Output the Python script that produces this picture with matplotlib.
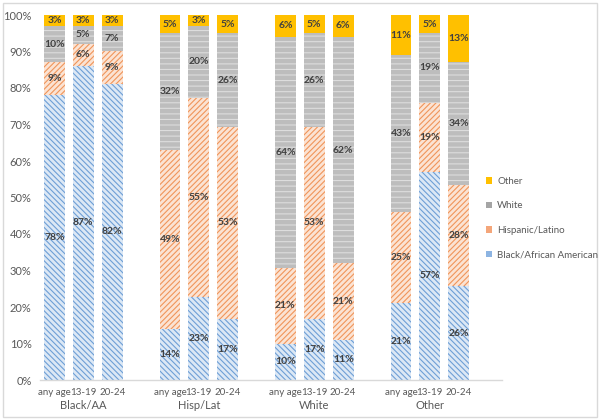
import matplotlib
matplotlib.use("Agg")
import matplotlib.pyplot as plt
from matplotlib.patches import Patch, Rectangle
import matplotlib.transforms as mtransforms
import numpy as np

plt.rcParams['font.family'] = ['Lato', 'DejaVu Sans']
plt.rcParams['hatch.linewidth'] = 0.8

ages = ["any age", "13-19", "20-24"]
groups = ["Black/AA", "Hisp/Lat", "White", "Other"]
series_names = ["Black/African American", "Hispanic/Latino", "White", "Other"]
black = [78, 87, 82, 14, 23, 17, 10, 17, 11, 21, 57, 26]
hisp = [9, 6, 9, 49, 55, 53, 21, 53, 21, 25, 19, 28]
white = [10, 5, 7, 32, 20, 26, 64, 26, 62, 43, 19, 34]
other = [3, 3, 3, 5, 3, 5, 6, 5, 6, 11, 5, 13]

series = [black, hisp, white, other]
faces = ["#DCE8F5", "#FBE3D3", "#BDBDBD", "#FFC000"]
hatchcol = ["#6E9FD6", "#F0955A", "#DDDDDD", "#FFC000"]
hatches = ["\\\\\\\\\\\\", "//////", "---", None]
legend_cols = ["#8DB4E2", "#F4A67A", "#A5A5A5", "#FFC000"]

fig = plt.figure(figsize=(6.0, 4.19), dpi=100)
ax = fig.add_axes([40/600, 1-380/419, 462/600, 365/419])

x = []
for g in range(len(groups)):
    for i in range(len(ages)):
        x.append(g*4 + i)
x = np.array(x)

vals = np.array(series, dtype=float)
tot = vals.sum(axis=0)
frac = vals / tot * 100
bottom = np.zeros(len(x))
for s in range(4):
    bars = ax.bar(x, frac[s], 0.72, bottom=bottom, color=faces[s],
                  edgecolor=hatchcol[s], linewidth=0, hatch=hatches[s])
    for xi, b, h, v in zip(x, bottom, frac[s], vals[s]):
        ax.text(xi, b + h/2, f"{int(v)}%", ha="center", va="center",
                fontsize=7.5, fontweight="bold", color="#404040")
    bottom += frac[s]

ax.set_xlim(-0.5, 15.5)
ax.set_ylim(0, 100)
ax.set_yticks(np.arange(0, 101, 10))
ax.set_yticklabels([f"{v}%" for v in range(0, 101, 10)], fontsize=8, color="#595959")
ax.set_xticks(x)
ax.set_xticklabels(ages * len(groups), fontsize=7, color="#595959")
ax.tick_params(axis="y", length=0, pad=6)
ax.tick_params(axis="x", length=0, pad=6)
for sp in ["top", "right", "left"]:
    ax.spines[sp].set_visible(False)
ax.spines["bottom"].set_color("#D9D9D9")
ax.spines["bottom"].set_linewidth(1)

trans = mtransforms.blended_transform_factory(ax.transData, fig.transFigure)
for g, name in enumerate(groups):
    ax.text(g*4 + 1, 1-405/419, name, transform=trans, ha="center", va="center",
            fontsize=8, color="#595959")

handles = [Patch(facecolor=legend_cols[s], edgecolor="none") for s in range(4)]
leg = fig.legend(handles[::-1], series_names[::-1], loc="upper left",
                 bbox_to_anchor=(482/600, 1-173/419), frameon=False,
                 fontsize=7, handlelength=0.65, handleheight=0.65,
                 handletextpad=0.5, labelspacing=1.6, borderaxespad=0)
for t in leg.get_texts():
    t.set_color("#595959")

fig.patches.append(Rectangle((3/600, 2/419), 594/600, 414/419, transform=fig.transFigure,
                             fill=False, edgecolor="#D9D9D9", linewidth=1))

fig.savefig("out.png", dpi=100)
